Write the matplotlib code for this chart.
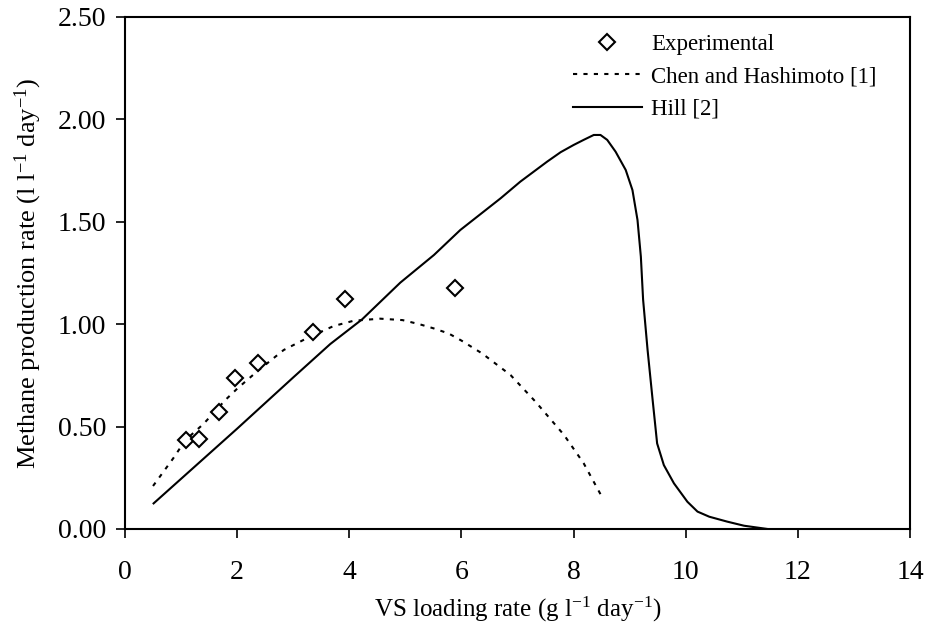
import numpy as np
import matplotlib
matplotlib.use("Agg")
import matplotlib.pyplot as plt
from matplotlib.ticker import FormatStrFormatter

plt.rcParams['font.family'] = ['Liberation Serif', 'DejaVu Serif']
plt.rcParams['mathtext.fontset'] = 'custom'
plt.rcParams['mathtext.rm'] = 'Liberation Serif'
plt.rcParams['mathtext.it'] = 'Liberation Serif:italic'

# experimental points
exp_x = [1.08, 1.32, 1.67, 1.96, 2.37, 3.35, 3.93, 5.89]
exp_y = [0.435, 0.438, 0.572, 0.736, 0.812, 0.963, 1.122, 1.175]

# Chen and Hashimoto [1]
chen_x = [0.5, 0.86, 1.08, 1.40, 1.79, 2.0, 2.35, 2.83, 3.24, 3.72, 4.08, 4.55,
          4.95, 5.25, 5.5, 5.77, 6.0, 6.37, 6.875, 7.32, 7.83, 8.18, 8.48]
chen_y = [0.21, 0.345, 0.435, 0.513, 0.63, 0.685, 0.768, 0.874, 0.931, 0.991, 1.017, 1.027,
          1.02, 1.0, 0.98, 0.955, 0.92, 0.857, 0.752, 0.622, 0.459, 0.321, 0.17]

# Hill [2]
hill_x = [0.51, 1.0, 2.0, 3.0, 3.66, 4.23, 4.91, 5.51, 5.98, 6.70, 7.05, 7.53, 7.77,
          8.0, 8.18, 8.36, 8.48, 8.60, 8.75, 8.93, 9.05, 9.14, 9.20, 9.24, 9.32, 9.41,
          9.49, 9.61, 9.79, 10.03, 10.21, 10.42, 10.74, 11.04, 11.46]
hill_y = [0.125, 0.245, 0.49, 0.74, 0.903, 1.024, 1.203, 1.338, 1.460, 1.615, 1.696, 1.794, 1.84,
          1.875, 1.90, 1.924, 1.924, 1.90, 1.842, 1.753, 1.655, 1.509, 1.33, 1.12, 0.874, 0.63,
          0.418, 0.312, 0.223, 0.133, 0.085, 0.06, 0.036, 0.016, 0.0]

fig = plt.figure(figsize=(9.34, 6.44), dpi=100)
ax = fig.add_axes([125/934, 1 - 529/644, 785/934, 512/644])

ax.plot(exp_x, exp_y, linestyle='none', marker='D', markersize=8.5,
        markerfacecolor='white', markeredgecolor='black', markeredgewidth=1.5,
        label='Experimental', zorder=3)
ax.plot(chen_x, chen_y, color='black', linewidth=1.5, linestyle=(0, (2, 3)),
        label='Chen and Hashimoto [1]')
ax.plot(hill_x, hill_y, color='black', linewidth=1.5, label='Hill [2]')

ax.set_xlim(0, 14)
ax.set_ylim(0, 2.5)
ax.set_xticks(np.arange(0, 15, 2))
ax.set_yticks(np.arange(0, 2.51, 0.5))
ax.yaxis.set_major_formatter(FormatStrFormatter('%.2f'))
ax.tick_params(direction='out', length=6.5, width=1.2, labelsize=20)
ax.tick_params(axis='x', pad=16)
ax.tick_params(axis='y', pad=7)
for s in ax.spines.values():
    s.set_linewidth(1.5)

ax.set_xlabel(r'VS loading rate (g l$^{\mathrm{-1}}$ day$^{\mathrm{-1}}$)', fontsize=18, labelpad=7)
ax.set_ylabel(r'Methane production rate (l l$^{\mathrm{-1}}$ day$^{\mathrm{-1}}$)', fontsize=19, labelpad=10)

ax.legend(loc='upper left', bbox_to_anchor=(0.549, 1.0), frameon=False, fontsize=16.5,
          handlelength=3.0, handletextpad=0.4, labelspacing=0.49, borderaxespad=0.34)

fig.savefig('out.png', dpi=100)
